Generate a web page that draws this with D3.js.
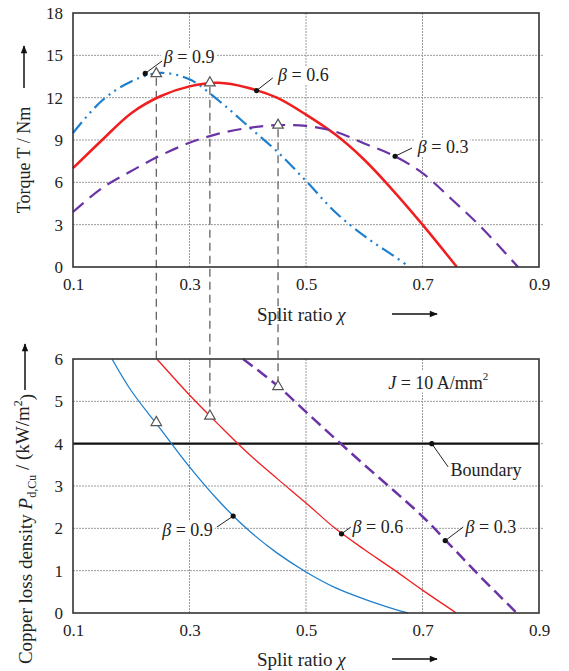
<!DOCTYPE html>
<html><head><meta charset="utf-8">
<script src="https://cdn.jsdelivr.net/npm/d3@7"></script>
<style>
body{margin:0;background:#fff;}
text{font-family:"Liberation Serif","Times New Roman",serif;fill:#222;}
</style></head>
<body><svg id="c" width="569" height="671"></svg>
<script>
// ---------- data ----------
const xTicks = [0.1, 0.3, 0.5, 0.7, 0.9];
const torqueTicks = [0, 3, 6, 9, 12, 15, 18];
const lossTicks = [0, 1, 2, 3, 4, 5, 6];

// torque vs split ratio
const torque09 = [[0.1,9.5],[0.15,11.8],[0.2,13.15],[0.25,13.75],[0.3,13.3],[0.35,11.8],[0.4,10.0],[0.45,8.2],[0.5,6.1],[0.55,3.9],[0.6,2.2],[0.65,0.8],[0.678,0]];
const torque06 = [[0.1,7.0],[0.15,9.0],[0.2,10.9],[0.25,12.1],[0.3,12.8],[0.35,13.05],[0.4,12.7],[0.45,12.0],[0.5,10.8],[0.55,9.4],[0.6,7.6],[0.65,5.4],[0.7,3.0],[0.759,0]];
const torque03 = [[0.1,3.9],[0.15,5.6],[0.2,6.8],[0.25,7.9],[0.3,8.8],[0.35,9.45],[0.4,9.85],[0.45,10.05],[0.5,10.0],[0.55,9.6],[0.6,8.75],[0.65,7.9],[0.7,6.65],[0.75,4.8],[0.8,2.85],[0.864,0]];

// copper loss density vs split ratio
const loss09 = [[0.167,6.0],[0.2,5.25],[0.25,4.35],[0.3,3.45],[0.35,2.65],[0.4,1.97],[0.45,1.42],[0.5,0.97],[0.55,0.6],[0.6,0.33],[0.65,0.1],[0.675,0]];
const loss06 = [[0.244,6.0],[0.3,5.15],[0.35,4.45],[0.4,3.78],[0.45,3.18],[0.5,2.6],[0.55,2.0],[0.6,1.5],[0.65,1.03],[0.7,0.54],[0.758,0]];
const loss03 = [[0.392,6.0],[0.45,5.38],[0.5,4.75],[0.55,4.12],[0.6,3.5],[0.65,2.9],[0.7,2.28],[0.75,1.57],[0.8,0.85],[0.862,0]];
const boundaryLoss = 4;

// optimum markers: split ratio, torque, loss, end of dashed link in loss plot
const optX = [0.243, 0.335, 0.452];
const optTorque = [13.7, 13.05, 10.05];
const optLoss = [4.5, 4.65, 5.35];
const linkEndLoss = [6.0, 4.65, 5.35];

// ---------- layout ----------
const svg = d3.select("#c");
const x = d3.scaleLinear().domain([0.1, 0.9]).range([73, 539]);
const yT = d3.scaleLinear().domain([0, 18]).range([267, 13]);
const yL = d3.scaleLinear().domain([0, 6]).range([613, 359]);

const blue = "#1f7fcf", red = "#f01e1e", purple = "#6a33a6";

svg.append("defs").append("marker").attr("id","ah").attr("viewBox","0 0 10 10")
  .attr("refX",9).attr("refY",5).attr("markerWidth",10).attr("markerHeight",8).attr("markerUnits","userSpaceOnUse")
  .attr("orient","auto").append("path").attr("d","M0,1 L10,5 L0,9 Z").attr("fill","#111");

function panel(y, ticks) {
  const g = svg.append("g");
  g.selectAll(".gx").data(xTicks.slice(1, -1)).join("line")
    .attr("x1", d => x(d)).attr("x2", d => x(d)).attr("y1", y.range()[1]).attr("y2", y.range()[0])
    .attr("stroke", "#9a9a9a").attr("stroke-width", 1).attr("stroke-dasharray", "2,1");
  g.selectAll(".gy").data(ticks.slice(1, -1)).join("line")
    .attr("x1", x.range()[0]).attr("x2", x.range()[1] + 5).attr("y1", d => y(d)).attr("y2", d => y(d))
    .attr("stroke", "#9a9a9a").attr("stroke-width", 1).attr("stroke-dasharray", "2,1");
  const ax = g.append("g").attr("transform", `translate(0,${y.range()[0]})`)
    .call(d3.axisBottom(x).tickValues(xTicks).tickSize(0).tickPadding(11).tickFormat(d3.format(".1f")));
  const ay = g.append("g").attr("transform", `translate(${x.range()[0]},0)`)
    .call(d3.axisLeft(y).tickValues(ticks).tickSize(0).tickPadding(10).tickFormat(d3.format("d")));
  [ax, ay].forEach(a => { a.select(".domain").remove(); a.selectAll("text").attr("font-size", 17).attr("fill","#222"); });
  return g;
}
panel(yT, torqueTicks);
panel(yL, lossTicks);

// dashed links
optX.forEach((v, i) => {
  svg.append("line").attr("x1", x(v)).attr("x2", x(v))
    .attr("y1", yT(optTorque[i]) + 4).attr("y2", yL(linkEndLoss[i]) - (i === 0 ? 0 : 5))
    .attr("stroke", "#555").attr("stroke-width", 1.2).attr("stroke-dasharray", "8,5");
});

// curves
const lineT = d3.line().x(d => x(d[0])).y(d => yT(d[1])).curve(d3.curveCatmullRom);
const lineL = d3.line().x(d => x(d[0])).y(d => yL(d[1])).curve(d3.curveCatmullRom);

svg.append("path").attr("d", lineT(torque09)).attr("fill","none").attr("stroke",blue).attr("stroke-width",2.2).attr("stroke-dasharray","14,5,2,5,2,5");
svg.append("path").attr("d", lineT(torque06)).attr("fill","none").attr("stroke",red).attr("stroke-width",2.5);
svg.append("path").attr("d", lineT(torque03)).attr("fill","none").attr("stroke",purple).attr("stroke-width",2.2).attr("stroke-dasharray","14,8");

svg.append("line").attr("x1", x(0.1)).attr("x2", x(0.9)).attr("y1", yL(boundaryLoss)).attr("y2", yL(boundaryLoss)).attr("stroke","#111").attr("stroke-width",2.2);
svg.append("path").attr("d", lineL(loss09)).attr("fill","none").attr("stroke",blue).attr("stroke-width",1.3);
svg.append("path").attr("d", lineL(loss06)).attr("fill","none").attr("stroke",red).attr("stroke-width",1.3);
svg.append("path").attr("d", lineL(loss03)).attr("fill","none").attr("stroke",purple).attr("stroke-width",2.5).attr("stroke-dasharray","12,6");

// frames
[yT, yL].forEach(y => {
  svg.append("rect").attr("x", x.range()[0]).attr("y", y.range()[1]).attr("width", x.range()[1]-x.range()[0]).attr("height", y.range()[0]-y.range()[1])
    .attr("fill","none").attr("stroke","#333").attr("stroke-width",1.6);
});

// triangles
const tri = d3.symbol().type(d3.symbolTriangle).size(48);
optX.forEach((v, i) => {
  svg.append("path").attr("d", tri()).attr("transform", `translate(${x(v)},${yT(optTorque[i])})`).attr("fill","#fff").attr("stroke","#555").attr("stroke-width",1.2);
  svg.append("path").attr("d", tri()).attr("transform", `translate(${x(v)},${yL(optLoss[i])})`).attr("fill","#fff").attr("stroke","#555").attr("stroke-width",1.2);
});

// annotations: [value, xLabel, yLabel, anchor, dotX, dotY, leaderX, leaderY]
const annTop = [
  ["0.9", 0.256, 14.9, "start", 0.224, 13.72, 0.253, 14.6],
  ["0.6", 0.452, 13.6, "start", 0.415, 12.5, 0.443, 13.4],
  ["0.3", 0.692, 8.5, "start", 0.653, 7.85, 0.682, 8.43]
];
const annBot = [
  ["0.9", 0.340, 1.96, "end", 0.375, 2.29, 0.347, 2.03],
  ["0.6", 0.580, 2.05, "start", 0.561, 1.87, 0.577, 2.03],
  ["0.3", 0.774, 2.05, "start", 0.739, 1.71, 0.770, 2.03]
];
function betaLabel(a, y) {
  const [val, lx, ly, anchor, dx, dy, ex, ey] = a;
  const t = svg.append("text").attr("x", x(lx)).attr("y", y(ly)).attr("dy", "0.35em").attr("text-anchor", anchor).attr("font-size", 18);
  t.append("tspan").attr("font-style", "italic").text("β");
  t.append("tspan").text(" = " + val);
  const bb = t.node().getBBox();
  svg.insert("rect", () => t.node()).attr("x", bb.x - 2).attr("y", bb.y + 1).attr("width", bb.width + 4).attr("height", bb.height - 2).attr("fill", "#fff");
  svg.append("line").attr("x1", x(dx)).attr("y1", y(dy)).attr("x2", x(ex)).attr("y2", y(ey)).attr("stroke", "#222").attr("stroke-width", 1);
  svg.append("circle").attr("cx", x(dx)).attr("cy", y(dy)).attr("r", 2.6).attr("fill", "#111");
}
annTop.forEach(a => betaLabel(a, yT));
annBot.forEach(a => betaLabel(a, yL));

// J label
const jt = svg.append("text").attr("x", x(0.641)).attr("y", yL(5.45)).attr("dy","0.35em").attr("font-size", 18);
jt.append("tspan").attr("font-style","italic").text("J");
jt.append("tspan").text(" = 10 A/mm");
jt.append("tspan").attr("font-size", 11).attr("dy", "-0.75em").text("2");
{ const bb = jt.node().getBBox(); svg.insert("rect", () => jt.node()).attr("x", bb.x-3).attr("y", bb.y).attr("width", bb.width+6).attr("height", bb.height).attr("fill","#fff"); }

// Boundary label
svg.append("line").attr("x1", x(0.716)).attr("y1", yL(4)).attr("x2", x(0.744)).attr("y2", yL(3.45)).attr("stroke","#222").attr("stroke-width",1);
svg.append("circle").attr("cx", x(0.716)).attr("cy", yL(4)).attr("r", 2.6).attr("fill","#111");
svg.append("text").attr("x", x(0.748)).attr("y", yL(3.38)).attr("dy","0.35em").attr("font-size", 18).text("Boundary");

// axis titles
function xTitle(yy) {
  const t = svg.append("text").attr("x", 257).attr("y", yy).attr("dy","0.35em").attr("font-size", 19);
  t.append("tspan").text("Split ratio ");
  t.append("tspan").attr("font-style","italic").text("χ");
  svg.append("line").attr("x1", 392).attr("x2", 437).attr("y1", yy).attr("y2", yy).attr("stroke","#111").attr("stroke-width",1.5).attr("marker-end","url(#ah)");
}
xTitle(314);
xTitle(659);

svg.append("text").attr("transform","translate(24,160) rotate(-90)").attr("text-anchor","middle").attr("dy","0.35em").attr("font-size", 18).text("Torque T / Nm");
svg.append("line").attr("x1",24).attr("x2",24).attr("y1",88).attr("y2",46).attr("stroke","#111").attr("stroke-width",1.5).attr("marker-end","url(#ah)");

const by = svg.append("text").attr("transform","translate(25,529) rotate(-90)").attr("text-anchor","middle").attr("dy","0.35em").attr("font-size", 19);
by.append("tspan").text("Copper loss density ");
by.append("tspan").attr("font-style","italic").text("P");
by.append("tspan").attr("font-size", 12).attr("dy","0.35em").text("d,Cu");
by.append("tspan").attr("dy","-0.35em").text(" / (kW/m");
by.append("tspan").attr("font-size", 12).attr("dy","-0.6em").text("2");
by.append("tspan").attr("dy","0.6em").text(")");
svg.append("line").attr("x1",25).attr("x2",25).attr("y1",390).attr("y2",344).attr("stroke","#111").attr("stroke-width",1.5).attr("marker-end","url(#ah)");
</script></body></html>
